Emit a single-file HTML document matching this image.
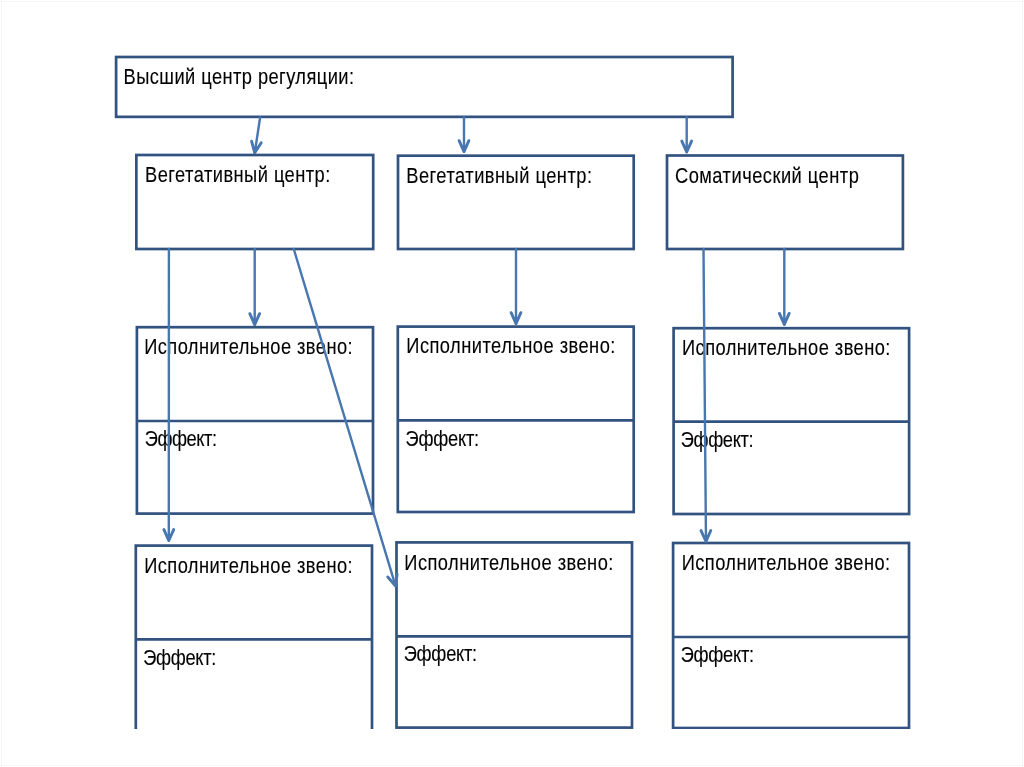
<!DOCTYPE html><html><head><meta charset="utf-8"><style>html,body{margin:0;padding:0;background:#fff;width:1024px;height:767px;overflow:hidden}svg{display:block}text{font-family:"Liberation Sans",sans-serif;fill:#000}</style></head><body>
<svg width="1024" height="767" viewBox="0 0 1024 767">
<defs><clipPath id="c"><rect x="0" y="0" width="1024" height="729.0"/></clipPath></defs>
<rect x="0" y="0" width="1024" height="767" fill="#fff"/>
<g fill="none" stroke="#f6f6f6" stroke-width="1"><line x1="1.5" y1="0" x2="1.5" y2="767"/><line x1="0" y1="1.5" x2="1024" y2="1.5"/><line x1="1022.5" y1="0" x2="1022.5" y2="767"/><line x1="0" y1="765.5" x2="1024" y2="765.5"/></g>
<g clip-path="url(#c)">
<g font-size="21.5" stroke="#000" stroke-width="0.12" style="will-change:transform">
<text transform="translate(123.60,84.10) scale(0.85,1)" x="0" y="0" textLength="271.06" lengthAdjust="spacing">Высший центр регуляции:</text>
<text transform="translate(145.10,182.10) scale(0.85,1)" x="0" y="0" textLength="217.88" lengthAdjust="spacing">Вегетативный центр:</text>
<text transform="translate(406.30,183.00) scale(0.85,1)" x="0" y="0" textLength="218.47" lengthAdjust="spacing">Вегетативный центр:</text>
<text transform="translate(675.00,182.60) scale(0.85,1)" x="0" y="0" textLength="216.24" lengthAdjust="spacing">Соматический центр</text>
<text transform="translate(144.20,353.50) scale(0.85,1)" x="0" y="0" textLength="245.18" lengthAdjust="spacing">Исполнительное звено:</text>
<text transform="translate(406.30,353.30) scale(0.85,1)" x="0" y="0" textLength="246.00" lengthAdjust="spacing">Исполнительное звено:</text>
<text transform="translate(682.00,354.50) scale(0.85,1)" x="0" y="0" textLength="245.18" lengthAdjust="spacing">Исполнительное звено:</text>
<text transform="translate(144.70,446.10) scale(0.85,1)" x="0" y="0" textLength="85.06" lengthAdjust="spacing">Эффект:</text>
<text transform="translate(405.60,445.60) scale(0.85,1)" x="0" y="0" textLength="86.47" lengthAdjust="spacing">Эффект:</text>
<text transform="translate(680.70,446.60) scale(0.85,1)" x="0" y="0" textLength="85.88" lengthAdjust="spacing">Эффект:</text>
<text transform="translate(144.20,573.30) scale(0.85,1)" x="0" y="0" textLength="245.18" lengthAdjust="spacing">Исполнительное звено:</text>
<text transform="translate(404.30,569.50) scale(0.85,1)" x="0" y="0" textLength="246.00" lengthAdjust="spacing">Исполнительное звено:</text>
<text transform="translate(681.70,570.20) scale(0.85,1)" x="0" y="0" textLength="245.18" lengthAdjust="spacing">Исполнительное звено:</text>
<text transform="translate(143.20,664.50) scale(0.85,1)" x="0" y="0" textLength="86.12" lengthAdjust="spacing">Эффект:</text>
<text transform="translate(403.70,661.10) scale(0.85,1)" x="0" y="0" textLength="86.47" lengthAdjust="spacing">Эффект:</text>
<text transform="translate(680.70,661.90) scale(0.85,1)" x="0" y="0" textLength="86.35" lengthAdjust="spacing">Эффект:</text>
</g>
<g fill="none" stroke="#325380" stroke-width="2.7" stroke-linejoin="miter">
<rect x="116.1" y="57.0" width="616.50" height="59.85"/>
<rect x="136.35" y="155.0" width="236.85" height="94.00"/>
<rect x="398.0" y="155.7" width="235.70" height="93.30"/>
<rect x="667.0" y="155.5" width="235.90" height="93.50"/>
<rect x="136.9" y="327.2" width="236.10" height="186.40"/>
<line x1="136.9" y1="421.0" x2="373.0" y2="421.0"/>
<rect x="397.8" y="326.6" width="235.90" height="185.40"/>
<line x1="397.8" y1="420.4" x2="633.7" y2="420.4"/>
<rect x="673.6" y="328.2" width="235.50" height="185.80"/>
<line x1="673.6" y1="421.6" x2="909.1" y2="421.6"/>
<rect x="135.8" y="545.6" width="236.20" height="188.40"/>
<line x1="135.8" y1="639.4" x2="372.0" y2="639.4"/>
<rect x="396.5" y="542.4" width="235.50" height="185.20"/>
<line x1="396.5" y1="636.4" x2="632.0" y2="636.4"/>
<rect x="673.1" y="543.0" width="235.90" height="185.00"/>
<line x1="673.1" y1="637.0" x2="909.0" y2="637.0"/>
</g>
<g fill="none" stroke="#4776B0" stroke-width="2.4" stroke-linecap="round" stroke-linejoin="round">
<line x1="260.1" y1="117.5" x2="254.74980537942798" y2="152.81128449577525"/>
<polyline stroke-width="2.9" points="261.22,142.70 254.75,152.81 251.57,141.24" /><polygon fill="#4776B0" stroke="none" points="254.75,152.81 253.08,146.49 258.22,147.27"/>
<line x1="464.0" y1="117.5" x2="464.0" y2="151.6"/>
<polyline stroke-width="2.9" points="468.88,140.64 464.00,151.60 459.12,140.64" /><polygon fill="#4776B0" stroke="none" points="464.00,151.60 461.40,145.60 466.60,145.60"/>
<line x1="686.7" y1="117.5" x2="686.7" y2="152.0"/>
<polyline stroke-width="2.9" points="691.58,141.04 686.70,152.00 681.82,141.04" /><polygon fill="#4776B0" stroke="none" points="686.70,152.00 684.10,146.00 689.30,146.00"/>
<line x1="168.9" y1="249.0" x2="168.80034188032192" y2="540.5000000584411"/>
<polyline stroke-width="2.9" points="173.68,529.54 168.80,540.50 163.92,529.54" /><polygon fill="#4776B0" stroke="none" points="168.80,540.50 166.20,534.50 171.40,534.50"/>
<line x1="254.7" y1="249.0" x2="254.7" y2="324.6"/>
<polyline stroke-width="2.9" points="259.58,313.64 254.70,324.60 249.82,313.64" /><polygon fill="#4776B0" stroke="none" points="254.70,324.60 252.10,318.60 257.30,318.60"/>
<line x1="293.75" y1="249.0" x2="395.61070403701" y2="586.0427602986724"/>
<polyline stroke-width="2.9" points="397.11,574.14 395.61,586.04 387.77,576.96" /><polygon fill="#4776B0" stroke="none" points="395.61,586.04 391.39,581.05 396.36,579.55"/>
<line x1="516.0" y1="249.0" x2="516.0" y2="323.6"/>
<polyline stroke-width="2.9" points="520.88,312.64 516.00,323.60 511.12,312.64" /><polygon fill="#4776B0" stroke="none" points="516.00,323.60 513.40,317.60 518.60,317.60"/>
<line x1="703.5" y1="249.0" x2="705.9914824214244" y2="541.5000362752303"/>
<polyline stroke-width="2.9" points="710.78,530.50 705.99,541.50 701.02,530.58" /><polygon fill="#4776B0" stroke="none" points="705.99,541.50 703.34,535.52 708.54,535.48"/>
<line x1="784.3" y1="249.0" x2="784.3" y2="324.4"/>
<polyline stroke-width="2.9" points="789.18,313.44 784.30,324.40 779.42,313.44" /><polygon fill="#4776B0" stroke="none" points="784.30,324.40 781.70,318.40 786.90,318.40"/>
</g>
</g>
</svg></body></html>
